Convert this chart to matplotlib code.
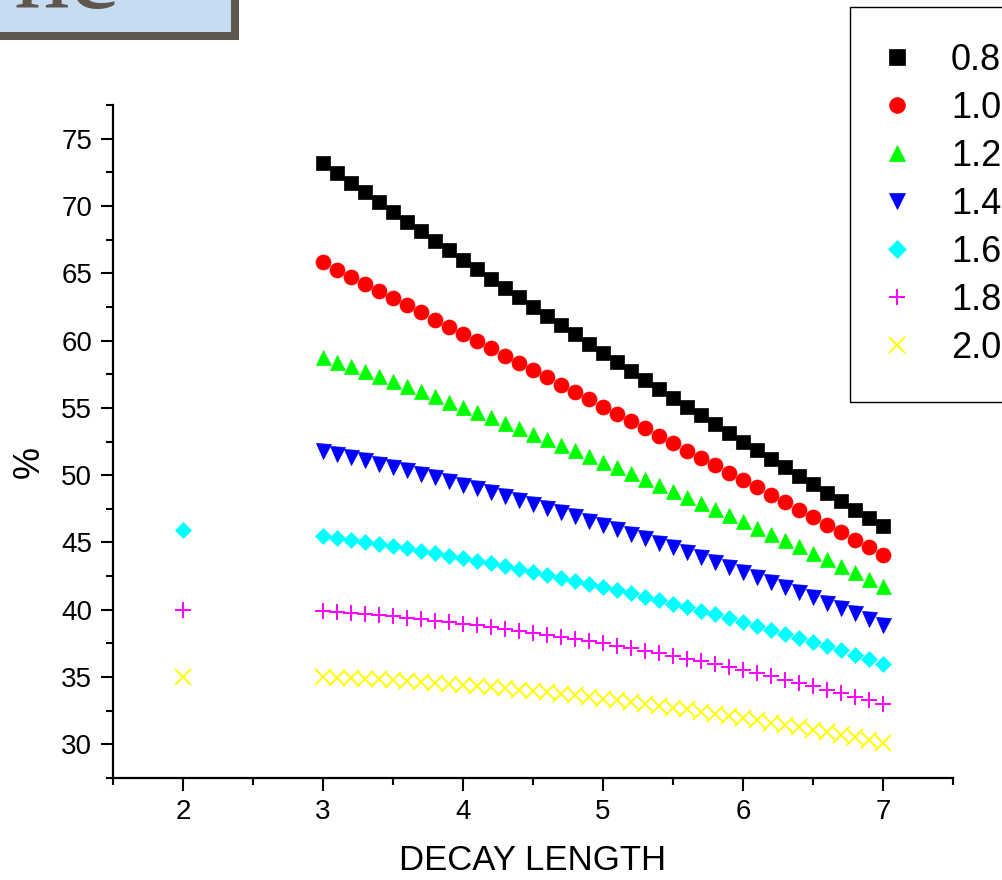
import numpy as np
import matplotlib
matplotlib.use('Agg')
import matplotlib.pyplot as plt
from matplotlib.patches import Rectangle
from matplotlib.ticker import MultipleLocator

plt.rcParams['font.family'] = ['Liberation Sans', 'DejaVu Sans']

# decay length grid (3.0 .. 7.0 in steps of 0.1)
decay = np.round(np.linspace(3.0, 7.0, 41), 1)
ref_x = [2.0]

s08 = [73.20, 72.47, 71.74, 71.01, 70.28, 69.56, 68.84, 68.13, 67.42, 66.71,
       66.00, 65.30, 64.60, 63.90, 63.20, 62.51, 61.82, 61.14, 60.46, 59.78,
       59.10, 58.43, 57.76, 57.09, 56.42, 55.76, 55.10, 54.45, 53.80, 53.15,
       52.50, 51.86, 51.22, 50.58, 49.94, 49.31, 48.68, 48.06, 47.44, 46.82,
       46.20]
s10 = [65.80, 65.27, 64.74, 64.21, 63.68, 63.15, 62.62, 62.09, 61.56, 61.02,
       60.49, 59.95, 59.42, 58.88, 58.34, 57.80, 57.26, 56.72, 56.18, 55.64,
       55.10, 54.56, 54.01, 53.47, 52.92, 52.38, 51.83, 51.28, 50.74, 50.19,
       49.64, 49.09, 48.54, 47.98, 47.43, 46.88, 46.32, 45.77, 45.21, 44.66,
       44.10]
s12 = [58.80, 58.44, 58.08, 57.72, 57.35, 56.98, 56.61, 56.23, 55.85, 55.46,
       55.07, 54.68, 54.29, 53.89, 53.49, 53.08, 52.67, 52.26, 51.84, 51.42,
       51.00, 50.57, 50.14, 49.71, 49.27, 48.83, 48.39, 47.94, 47.49, 47.03,
       46.58, 46.11, 45.65, 45.18, 44.71, 44.23, 43.75, 43.27, 42.78, 42.29,
       41.80]
s14 = [51.80, 51.57, 51.34, 51.10, 50.85, 50.60, 50.35, 50.09, 49.83, 49.56,
       49.29, 49.01, 48.73, 48.44, 48.15, 47.85, 47.55, 47.25, 46.94, 46.62,
       46.30, 45.98, 45.65, 45.31, 44.97, 44.63, 44.28, 43.93, 43.57, 43.21,
       42.84, 42.47, 42.09, 41.71, 41.32, 40.93, 40.53, 40.13, 39.73, 39.32,
       38.90]
s16 = [45.50, 45.36, 45.21, 45.05, 44.89, 44.73, 44.56, 44.39, 44.21, 44.03,
       43.84, 43.64, 43.45, 43.25, 43.04, 42.83, 42.61, 42.39, 42.17, 41.94,
       41.70, 41.46, 41.22, 40.97, 40.71, 40.45, 40.19, 39.92, 39.65, 39.37,
       39.09, 38.80, 38.51, 38.21, 37.91, 37.60, 37.29, 36.98, 36.66, 36.33,
       36.00]
s18 = [39.90, 39.83, 39.75, 39.67, 39.59, 39.50, 39.40, 39.30, 39.19, 39.08,
       38.97, 38.84, 38.71, 38.58, 38.44, 38.30, 38.15, 37.99, 37.83, 37.67,
       37.50, 37.33, 37.14, 36.96, 36.77, 36.57, 36.37, 36.16, 35.95, 35.74,
       35.51, 35.29, 35.05, 34.81, 34.57, 34.32, 34.07, 33.81, 33.54, 33.28,
       33.00]
s20 = [35.00, 34.96, 34.92, 34.87, 34.82, 34.76, 34.70, 34.63, 34.56, 34.49,
       34.41, 34.33, 34.24, 34.15, 34.06, 33.96, 33.86, 33.75, 33.64, 33.52,
       33.40, 33.27, 33.15, 33.01, 32.88, 32.73, 32.59, 32.44, 32.28, 32.13,
       31.96, 31.80, 31.62, 31.45, 31.27, 31.08, 30.90, 30.70, 30.51, 30.31,
       30.10]

# single reference points at decay length 2
ref16 = [45.9]
ref18 = [40.0]
ref20 = [35.0]

labels = ['0.8', '1.0', '1.2', '1.4', '1.6', '1.8', '2.0']

fig = plt.figure(figsize=(10.02, 8.8), dpi=100)
ax = fig.add_axes([113 / 1002, 102 / 880, 840 / 1002, 673 / 880])

styles = [
    (s08, 's', '#000000', 10.3),
    (s10, 'o', '#ff0000', 10.8),
    (s12, '^', '#00ff00', 10.8),
    (s14, 'v', '#0000ff', 10.8),
    (s16, 'D', '#00ffff', 8.6),
    (s18, '+', '#ff00ff', 11.3),
    (s20, 'x', '#ffff00', 11.3),
]
for (ys, mk, col, ms), lab in zip(styles, labels):
    if mk in '+x':
        ax.plot(decay, ys, ls='none', marker=mk, ms=ms, mew=1.4, color=col, label=lab)
    else:
        ax.plot(decay, ys, ls='none', marker=mk, ms=ms, mew=0.5, mec=col, color=col, label=lab)

ax.plot(ref_x, ref16, ls='none', marker='D', ms=8.6, mew=0.5, color='#00ffff', label='_nolegend_')
ax.plot(ref_x, ref18, ls='none', marker='+', ms=11.3, mew=1.4, color='#ff00ff', label='_nolegend_')
ax.plot(ref_x, ref20, ls='none', marker='x', ms=11.3, mew=1.4, color='#ffff00', label='_nolegend_')

ax.set_xlim(1.5, 7.5)
ax.set_ylim(27.5, 77.5)
ax.xaxis.set_major_locator(MultipleLocator(1))
ax.xaxis.set_minor_locator(MultipleLocator(0.5))
ax.yaxis.set_major_locator(MultipleLocator(5))
ax.yaxis.set_minor_locator(MultipleLocator(2.5))

for side in ['top', 'right']:
    ax.spines[side].set_visible(False)
for side in ['left', 'bottom']:
    ax.spines[side].set_linewidth(1.6)

ax.tick_params(which='major', direction='out', length=9, width=1.5, labelsize=20, pad=6)
ax.tick_params(which='minor', direction='out', length=5, width=1.5)

ax.set_xlabel('DECAY LENGTH', fontsize=25, labelpad=14)
ax.set_ylabel('%', fontsize=26)
ax.yaxis.set_label_coords(-0.079, 0.47)

leg = ax.legend(loc='upper left', bbox_to_anchor=(850 / 1002, 873 / 880),
                bbox_transform=fig.transFigure, frameon=True, fancybox=False,
                edgecolor='black', framealpha=1, fontsize=26, borderpad=1.0,
                labelspacing=0.36, handlelength=0.6, handletextpad=1.2,
                borderaxespad=0, numpoints=1, markerscale=1.05)
leg.get_frame().set_linewidth(1.0)

# cropped title box in the upper left corner
fig.patches.append(Rectangle((-20 / 1002, 844 / 880), 255 / 1002, 60 / 880,
                             transform=fig.transFigure, facecolor='#c6dcf0',
                             edgecolor='#5f564d', linewidth=5.8, clip_on=False))
fig.text(0.118, 872 / 880, 'nc', ha='right', va='baseline', fontsize=80,
         family='Liberation Serif', color='#5f564d')

fig.savefig('out.png', dpi=100)
